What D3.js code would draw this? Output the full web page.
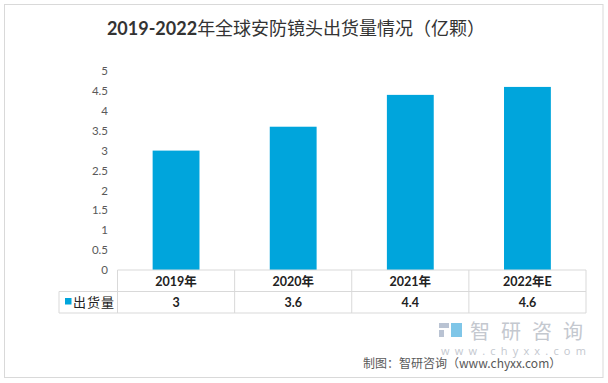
<!DOCTYPE html>
<html><head><meta charset="utf-8">
<script src="https://cdn.jsdelivr.net/npm/d3@7/dist/d3.min.js"></script>
<style>body{margin:0;background:#fff}svg{display:block}</style>
</head><body>
<script>
const categories = ["2019年", "2020年", "2021年", "2022年E"];
const seriesName = "出货量";
const values = [3, 3.6, 4.4, 4.6];
const valueLabels = ["3", "3.6", "4.4", "4.6"];
const yTicks = [0, 0.5, 1, 1.5, 2, 2.5, 3, 3.5, 4, 4.5, 5];
const titleNum = "2019-2022";
const titleText = "年全球安防镜头出货量情况（亿颗）";
const sourceText = "制图：智研咨询（www.chyxx.com）";

const W = 608, H = 383;
const color = "#00A5DC";
const grid = "#d9d9d9";
const cjk = "'Noto Sans CJK SC', sans-serif";
const lat = "Lato, 'Noto Sans CJK SC', sans-serif";

const svg = d3.select("body").append("svg").attr("width", W).attr("height", H);
svg.append("rect").attr("width", W).attr("height", H).attr("fill", "#fff");
svg.append("rect").attr("x", 4.5).attr("y", 4.5).attr("width", 598.5).attr("height", 373)
  .attr("fill", "none").attr("stroke", grid);

// title
const t = svg.append("text").attr("x", 296).attr("y", 35).attr("text-anchor", "middle")
  .attr("font-size", 18).attr("fill", "#333");
t.append("tspan").attr("font-family", lat).attr("font-weight", 700).text(titleNum);
t.append("tspan").attr("font-family", cjk).attr("font-weight", 400).text(titleText);

const x = d3.scaleBand().domain(categories).range([117.5, 586]).paddingInner(0.6).paddingOuter(0.3);
const xb = d3.scaleBand().domain(categories).range([117.5, 586]);
const y = d3.scaleLinear().domain([0, 5]).range([270, 71]);

// y axis labels
const ya = svg.append("g").attr("transform", "translate(110,0)")
  .call(d3.axisLeft(y).tickValues(yTicks).tickSize(0).tickPadding(2).tickFormat(d3.format("")));
ya.select(".domain").remove();
ya.selectAll("text").attr("font-family", "Lato, 'Open Sans', sans-serif").attr("font-size", 11.5).attr("fill", "#595959");

// bars
svg.selectAll("rect.bar").data(values).enter().append("rect").attr("class", "bar")
  .attr("x", (d, i) => x(categories[i])).attr("width", x.bandwidth())
  .attr("y", d => y(d)).attr("height", d => y(0) - y(d)).attr("fill", color);

// data table
const r0 = 270, r1 = 291.5, r2 = 313, leftX = 59;
const tg = svg.append("g").attr("stroke", grid).attr("stroke-width", 1).attr("fill", "none");
tg.append("line").attr("x1", 117.5).attr("x2", 586).attr("y1", r0).attr("y2", r0);
tg.append("line").attr("x1", leftX).attr("x2", 586).attr("y1", r1).attr("y2", r1);
tg.append("line").attr("x1", leftX).attr("x2", 586).attr("y1", r2).attr("y2", r2);
tg.append("line").attr("x1", leftX).attr("x2", leftX).attr("y1", r1).attr("y2", r2);
categories.forEach(c => {
  tg.append("line").attr("x1", xb(c)).attr("x2", xb(c)).attr("y1", r0).attr("y2", r2);
});
tg.append("line").attr("x1", 586).attr("x2", 586).attr("y1", r0).attr("y2", r2);

svg.selectAll("text.cat").data(categories).enter().append("text").attr("class", "cat")
  .attr("x", d => xb(d) + xb.bandwidth() / 2).attr("y", 285.5).attr("text-anchor", "middle")
  .attr("font-family", lat).attr("font-weight", 700).attr("font-size", 12.5).attr("fill", "#222").text(d => d);
svg.selectAll("text.val").data(valueLabels).enter().append("text").attr("class", "val")
  .attr("x", (d, i) => xb(categories[i]) + xb.bandwidth() / 2).attr("y", 307).attr("text-anchor", "middle")
  .attr("font-family", lat).attr("font-weight", 700).attr("font-size", 12.5).attr("fill", "#222").text(d => d);

svg.append("rect").attr("x", 65).attr("y", 298).attr("width", 6.5).attr("height", 6.5).attr("fill", color);
svg.append("text").attr("x", 73).attr("y", 307).attr("font-family", cjk).attr("font-size", 13)
  .attr("fill", "#222").attr("letter-spacing", 1).text(seriesName);

// watermark
const wm = svg.append("g").attr("fill", "#c9ced6");
wm.append("rect").attr("x", 439).attr("y", 323).attr("width", 10).attr("height", 5).attr("fill", "#b9c3d3");
wm.append("rect").attr("x", 439).attr("y", 330).attr("width", 5).attr("height", 7).attr("fill", "#b9c3d3");
wm.append("rect").attr("x", 451).attr("y", 323).attr("width", 11).attr("height", 14).attr("fill", "#7fc6e8");
wm.append("text").attr("x", 470).attr("y", 339).attr("font-family", cjk).attr("font-size", 20)
  .attr("letter-spacing", 11).attr("fill", "#c4c8cf").text("智研咨询");
wm.append("text").attr("x", 441).attr("y", 355).attr("font-family", "'Open Sans', sans-serif").attr("font-size", 11)
  .attr("letter-spacing", 5.2).attr("fill", "#c4c8cf").text("www.chyxx.com");

svg.append("text").attr("x", 363).attr("y", 368).attr("font-family", cjk).attr("font-size", 12)
  .attr("fill", "#595959").text(sourceText);
</script>
</body></html>
